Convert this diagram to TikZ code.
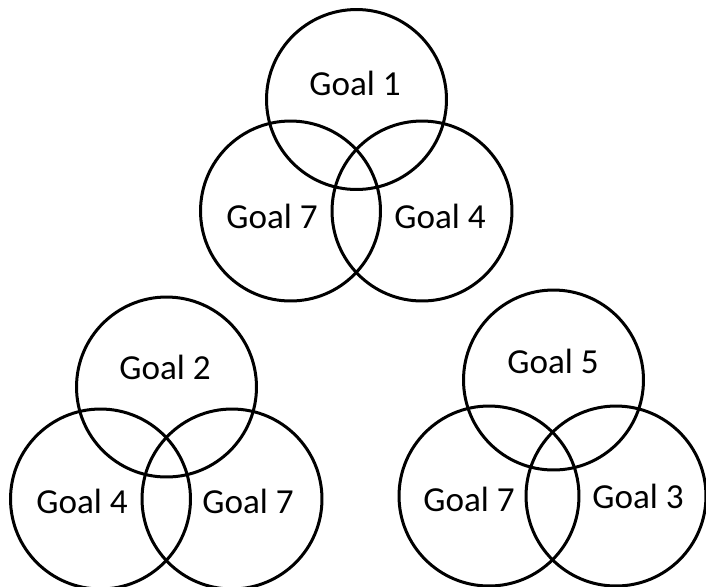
\documentclass[tikz,border=0pt]{standalone}
\usepackage{fontspec}
\setmainfont{Carlito}

\begin{document}
\begin{tikzpicture}[x=0.02cm,y=-0.02cm,
    ring/.style={draw=black,circle,line width=0.06cm,minimum size=3.6cm,inner sep=0pt},
    goal/.style={font=\fontsize{20}{24}\selectfont,inner sep=0pt}]
  \useasboundingbox (0,0) rectangle (706,586);

  % top group
  \node[ring] (t1) at (356.5,99.5) {};
  \node[ring] (t7) at (290.5,211) {};
  \node[ring] (t4) at (422,211) {};
  \node[goal] (lt1) at (355,83) {Goal 1};
  \node[goal] (lt7) at (272,216) {Goal 7};
  \node[goal] (lt4) at (440,216) {Goal 4};

  % bottom left group
  \node[ring] (l2) at (166.5,387) {};
  \node[ring] (l4) at (100.5,499) {};
  \node[ring] (l7) at (232,499) {};
  \node[goal] (ll2) at (165,367) {Goal 2};
  \node[goal] (ll4) at (82,501) {Goal 4};
  \node[goal] (ll7) at (248,501) {Goal 7};

  % bottom right group
  \node[ring] (r5) at (553.5,380) {};
  \node[ring] (r7) at (489,496) {};
  \node[ring] (r3) at (616,496) {};
  \node[goal] (lr5) at (553,361) {Goal 5};
  \node[goal] (lr7) at (469,499) {Goal 7};
  \node[goal] (lr3) at (638,496) {Goal 3};
\end{tikzpicture}
\end{document}
